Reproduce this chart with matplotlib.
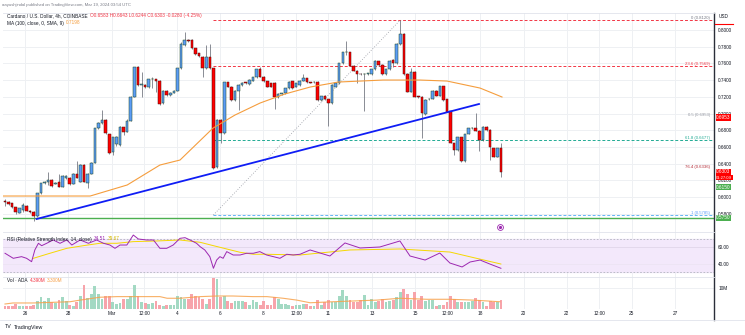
import matplotlib
matplotlib.use('Agg')
import matplotlib.pyplot as plt
import matplotlib.transforms as mtransforms

plt.rcParams['font.family'] = ['Liberation Sans', 'DejaVu Sans']

# ADA/USD 4h candles, Feb 25 -> Mar 19 2024
opens = [.5948, .5944, .5924, .5876, .5812, .5844, .5892, .5830, .5824, .5776,
         .6044, .6164, .6184, .6204, .6160, .6184, .6124, .6224, .6224, .6156,
         .6275, .6184, .6383, .6164, .6275, .6411, .6822, .6890, .6922, .6754,
         .6543, .6640, .6623, .6834, .6782, .6914, .7202, .7553, .7341, .7345,
         .7313, .7409, .7409, .7393, .7122, .7270, .7222, .7250, .7274, .7541,
         .7820, .7880, .7880, .7780, .7721, .7681, .7541, .7681, .7541, .6363,
         .6922, .6763, .7373, .7321, .7162, .7274, .7341, .7369, .7353, .7393,
         .7433, .7529, .7441, .7389, .7361, .7369, .7194, .7234, .7242, .7301,
         .7389, .7321, .7341, .7389, .7421, .7373, .7373, .7381, .7162, .7210,
         .7170, .7122, .7321, .7361, .7601, .7733, .7733, .7573, .7513, .7473,
         .7470, .7473, .7473, .7529, .7629, .7581, .7469, .7529, .7641, .7601,
         .7832, .7952, .7473, .7262, .7501, .7202, .7202, .6994, .7170, .7178,
         .7270, .7210, .7329, .7170, .7030, .6643, .6563, .6715, .6435, .6755,
         .6822, .6822, .6794, .6683, .6842, .6802, .6583, .6483, .6583]
highs = [.5975, .5950, .5930, .5885, .5870, .5924, .5900, .5840, .5830, .6050,
         .6170, .6190, .6303, .6215, .6185, .6275, .6260, .6265, .6235, .6285,
         .6435, .6390, .6400, .6285, .6420, .6830, .6900, .7042, .6935, .6760,
         .6720, .6725, .6845, .6840, .6930, .7210, .7560, .7565, .7501, .7350,
         .7415, .7441, .7415, .7400, .7280, .7280, .7260, .7285, .7550, .7860,
         .7975, .7890, .7890, .7790, .7730, .7690, .7820, .7832, .7550, .6930,
         .6930, .7380, .7380, .7330, .7280, .7350, .7375, .7380, .7410, .7440,
         .7535, .7561, .7450, .7395, .7365, .7375, .7240, .7250, .7310, .7390,
         .7395, .7370, .7400, .7473, .7430, .7380, .7390, .7390, .7215, .7218,
         .7175, .7350, .7370, .7610, .7740, .7872, .7740, .7580, .7520, .7480,
         .7480, .7490, .7535, .7640, .7635, .7590, .7535, .7640, .7650, .7840,
         .8120, .7960, .7480, .7541, .7510, .7210, .7210, .7170, .7185, .7280,
         .7280, .7335, .7335, .7175, .7035, .6650, .6720, .6720, .6760, .6830,
         .6835, .7002, .6800, .6850, .6850, .6810, .6590, .6590, .6643]
lows = [.5895, .5905, .5865, .5800, .5805, .5824, .5830, .5810, .5717, .5765,
        .6035, .6150, .6144, .6125, .6150, .6116, .6115, .6215, .6140, .6150,
        .6225, .6175, .6175, .6104, .6270, .6405, .6815, .6880, .6755, .6520,
        .6500, .6615, .6615, .6740, .6775, .6905, .7195, .7335, .7202, .7305,
        .7305, .7301, .7261, .7105, .7110, .7215, .7215, .7245, .7270, .7535,
        .7810, .7860, .7770, .7700, .7680, .7441, .7530, .7530, .6330, .6350,
        .6651, .6755, .7315, .7150, .7155, .7042, .7335, .7355, .7345, .7385,
        .7425, .7435, .7380, .7315, .7315, .7050, .7185, .7225, .7235, .7295,
        .7295, .7315, .7335, .7385, .7365, .7360, .7365, .7155, .7155, .7165,
        .6850, .7115, .7315, .7355, .7595, .7700, .7565, .7505, .7361, .7465,
        .7034, .7465, .7465, .7520, .7575, .7460, .7460, .7520, .7561, .7595,
        .7825, .7465, .7255, .7255, .7195, .7190, .6703, .6985, .7165, .7170,
        .7205, .7205, .7155, .7015, .6645, .6503, .6555, .6425, .6420, .6750,
        .6815, .6785, .6555, .6675, .6795, .6443, .6475, .6475, .6244]
closes = [.5942, .5916, .5876, .5824, .5864, .5904, .5836, .5824, .5776, .6044,
          .6164, .6184, .6204, .6132, .6172, .6124, .6251, .6255, .6156, .6275,
          .6232, .6383, .6184, .6275, .6411, .6822, .6890, .6922, .6762, .6531,
          .6715, .6715, .6834, .6782, .6914, .7202, .7553, .7341, .7345, .7313,
          .7409, .7412, .7393, .7114, .7270, .7222, .7250, .7274, .7541, .7832,
          .7880, .7872, .7780, .7713, .7689, .7541, .7681, .7541, .6343, .6922,
          .6763, .7373, .7321, .7162, .7274, .7341, .7369, .7365, .7401, .7433,
          .7529, .7441, .7389, .7321, .7321, .7194, .7234, .7242, .7301, .7381,
          .7301, .7361, .7393, .7429, .7373, .7370, .7381, .7162, .7210, .7170,
          .7122, .7341, .7361, .7601, .7733, .7741, .7573, .7513, .7473, .7470,
          .7473, .7481, .7529, .7629, .7581, .7469, .7529, .7633, .7601, .7832,
          .7952, .7473, .7262, .7501, .7202, .7198, .7002, .7162, .7178, .7274,
          .7210, .7329, .7162, .7022, .6651, .6563, .6715, .6435, .6755, .6822,
          .6826, .6794, .6683, .6842, .6802, .6595, .6483, .6583, .6303]
# volume in millions ADA
volumes = [1.46, 0.98, 1.46, 2.29, 1.46, 1.46, 1.46, 0.98, 1.95, 3.90,
           5.85, 3.56, 5.22, 3.07, 2.59, 4.24, 5.51, 3.90, 1.95, 1.46,
           3.07, 6.34, 11.71, 5.22, 7.17, 11.22, 7.17, 4.73, 6.34, 6.34,
           3.07, 2.29, 2.78, 4.73, 4.73, 6.34, 11.71, 6.34, 3.07, 2.93,
           2.29, 2.59, 3.90, 1.95, 0.98, 1.95, 1.95, 1.95, 6.34, 5.85,
           4.73, 4.73, 7.17, 6.34, 5.51, 4.73, 2.29, 4.73, 15.12, 14.63,
           5.37, 6.34, 3.90, 2.59, 3.56, 3.56, 3.90, 3.07, 1.95, 4.24,
           3.07, 1.95, 3.56, 1.95, 1.95, 5.85, 4.73, 2.29, 2.29, 1.95,
           1.46, 1.95, 1.95, 2.44, 2.44, 1.46, 1.46, 4.05, 1.95, 3.07,
           4.39, 3.07, 3.07, 6.34, 9.27, 6.34, 4.39, 3.07, 3.07, 4.05,
           6.83, 1.95, 4.73, 3.07, 3.56, 4.73, 3.07, 3.56, 4.39, 5.71,
           7.95, 9.61, 7.32, 4.05, 7.95, 4.05, 6.34, 3.56, 4.05, 4.05,
           1.46, 1.95, 1.95, 3.07, 6.00, 4.73, 3.07, 3.07, 3.07, 3.07,
           3.56, 5.22, 4.05, 3.07, 1.46, 3.56, 3.07, 3.07, 4.39]

# 100 SMA, read at points (candle index, price)
sma_idx = [-0.6, 23.7, 34.0, 43.1, 48.7, 57.9, 64.0, 71.0, 77.9, 84.9, 92.7, 105.2, 115.5, 123.0, 132.2, 138.3]
sma_val = [.6012, .6012, .6144, .6383, .6443, .6826, .6982, .7126, .7234, .7317, .7377, .7401, .7401, .7389, .7305, .7198]

# RSI (14) and its MA, read at points
rsi_idx = [0, 2.3, 4.6, 6.0, 7.4, 8.3, 9.3, 10.2, 11.6, 13.4, 15.3, 17.2, 18.6, 20.9, 23.2, 25.5,
           27.4, 29.2, 30.6, 32.0, 33.9, 35.7, 37.1, 39.4, 41.3, 43.1, 45.0, 46.8, 48.7, 50.1,
           51.5, 53.3, 54.3, 55.6, 57.0, 58.0, 58.9, 59.8, 60.7, 61.7, 63.5, 65.4, 67.2, 69.1,
           70.9, 72.8, 74.7, 76.5, 78.4, 80.2, 82.1, 84.9, 90.4, 94.6, 98.8, 104.3, 109.9,
           112.7, 116.9, 121.0, 123.8, 127.2, 129.4, 132.2, 134.9, 138.0]
rsi_val = [52.7, 46.6, 48.6, 46.6, 42.5, 56.7, 64.8, 61.9, 64.8, 68.8, 64.8, 68.8, 62.7, 68.8, 64.8, 68.8,
           64.8, 62.7, 58.7, 62.7, 62.7, 74.8, 70.0, 68.8, 68.8, 58.7, 58.7, 62.7, 70.8, 71.6,
           68.8, 64.8, 60.7, 56.7, 48.6, 34.5, 44.5, 48.6, 46.6, 54.7, 50.6, 50.6, 52.7, 52.7,
           54.7, 50.6, 48.6, 46.6, 51.5, 50.6, 51.5, 56.7, 49.4, 65.2, 59.1, 60.3, 67.6,
           49.4, 44.5, 53.0, 40.9, 36.1, 42.1, 44.5, 39.7, 34.51]
rsima_idx = [7.9, 12.5, 17.2, 21.8, 26.4, 31.1, 35.7, 42.2, 48.7, 54.3, 58.0, 61.7, 65.4, 69.1, 72.8,
             82.1, 96.0, 109.9, 123.8, 130.8, 138.0]
rsima_val = [46.6, 52.7, 58.7, 61.9, 64.8, 64.8, 66.8, 67.6, 68.8, 66.0, 61.9, 57.9, 53.9, 51.5, 51.5,
             50.6, 56.7, 57.9, 54.2, 47.0, 39.67]

# volume MA, read at points
vma_idx = [0, 2.2, 7.8, 18.1, 20.9, 26.4, 31.2, 37.6, 43.1, 45.1, 48.7, 54.3, 59.0, 63.4, 69.0,
           72.9, 77.4, 81.2, 84.9, 91.3, 103.5, 109.9, 117.4, 123.8, 130.2, 137.7]
vma_val = [2.2, 2.7, 2.7, 3.3, 4.1, 5.5, 5.8, 5.8, 5.8, 5.0, 5.0, 5.8, 6.1, 6.1, 5.8,
           5.8, 5.0, 4.1, 2.8, 3.3, 4.1, 5.0, 4.5, 4.5, 4.1, 3.3]

# drawings
fib_hi, fib_lo = 0.8120, 0.5785
fib_from, fib_to = 58, 110
trend_idx = [8.8, 131.9]
trend_val = [0.5737, 0.7114]
support = 0.5750
green_tag = 0.6150

price_ticks = [0.58, 0.60, 0.62, 0.64, 0.66, 0.68, 0.70, 0.72, 0.74, 0.76, 0.78, 0.80]
tick_days = [0, 2, 4, 5.5, 7, 9, 11, 12.5, 14, 16, 18, 19.5, 21, 23, 25, 26.5, 28, 30]
tick_labels = ['26', '28', 'Mar', '12:00', '4', '6', '8', '12:00', '11', '13', '15', '12:00',
               '18', '20', '22', '12:00', '25', '27']

W, H = 745, 335
def fx(x):
    return x / W
def fy(y):
    return 1 - y / H

TXT = '#131722'
GRID = '#eef0f3'
FS = 3.4

fig = plt.figure(figsize=(7.45, 3.35), dpi=100)
ax = fig.add_axes([fx(3), fy(232), fx(714) - fx(3), (232 - 13) / H])
rax = fig.add_axes([fx(3), fy(277), fx(714) - fx(3), (277 - 232) / H], sharex=ax)
vax = fig.add_axes([fx(3), fy(309), fx(714) - fx(3), (309 - 277) / H], sharex=ax)

tick_idx = [5.6 + 6.03 * d for d in tick_days]
n = len(opens)
xs = list(range(n))

for a in (ax, rax, vax):
    for s in a.spines.values():
        s.set_visible(False)
    for t in tick_idx:
        a.axvline(t, color=GRID, lw=0.7, zorder=0)
    a.tick_params(length=0)
    a.yaxis.tick_right()

ax.set_xlim(-0.56, 197.3)
ax.set_ylim(0.5581, 0.8204)
for p in price_ticks:
    ax.axhline(p, color=GRID, lw=0.7, zorder=0)
ax.set_yticks(price_ticks, ['%.4f' % p for p in price_ticks])
ax.tick_params(axis='y', labelsize=FS, labelcolor=TXT, pad=3)
ax.tick_params(axis='x', labelbottom=False)

# fib retracement
ytr = ax.get_yaxis_transform()
fib_levels = [(0, '#f23645', True, '#787b86'), (0.236, '#f23645', True, '#f23645'),
              (0.5, None, False, '#9598a1'), (0.618, '#22ab94', True, '#22ab94'),
              (0.764, None, False, '#b22833'), (1, '#64b5f6', True, '#5b9cf6')]
for lev, col, draw, tcol in fib_levels:
    price = fib_hi - lev * (fib_hi - fib_lo)
    if draw:
        ax.plot([fib_from, 197.3], [price, price], color=col, lw=0.7, dashes=(3, 2), zorder=2)
    if lev in (0, 1):
        lab = '%d (%.4f)' % (lev, price)
    elif lev == 0.5:
        lab = '0.5 (%.4f)' % price
    else:
        lab = '%g (%.4f)' % (lev * 100, price)
    ax.text(0.9944, price, lab, transform=ytr, ha='right', va='bottom', fontsize=FS - 0.3,
            color=tcol, zorder=6)
ax.plot([fib_from, fib_to], [fib_lo, fib_hi], color='#9598a1', lw=0.6, ls=(0, (1, 2)), zorder=2)
ax.axhline(support, color='#4caf50', lw=1.0, zorder=2)

# candles
up = [c >= o for o, c in zip(opens, closes)]
ax.vlines(xs, lows, highs, color='#6a6d78', lw=0.55, zorder=3)
ax.bar(xs, [max(abs(c - o), 0.0007) for o, c in zip(opens, closes)],
       bottom=[min(o, c) for o, c in zip(opens, closes)], width=0.72,
       color=['#5b9cf6' if u else '#ff0000' for u in up],
       edgecolor=['#1e4620' if u else '#4a0c0c' for u in up], linewidth=0.35, zorder=4)

ax.plot(sma_idx, sma_val, color='#f59d3d', lw=0.8, zorder=5)
ax.plot(trend_idx, trend_val, color='#0f1df5', lw=1.3, zorder=5)
ax.plot([137.7], [0.5641], marker='o', ms=4.2, mfc='white', mec='#9c27b0', mew=0.6, zorder=6)
ax.plot([137.7], [0.5641], marker='o', ms=1.3, color='#9c27b0', zorder=7)

# RSI pane
rax.set_ylim(23.94, 78.48)
rax.axhspan(30, 70, color='#f3e8fb', zorder=0)
rax.axhline(70, color='#b2b5be', lw=0.6, dashes=(2, 2), zorder=1)
rax.axhline(30, color='#b2b5be', lw=0.6, dashes=(2, 2), zorder=1)
rax.axhline(60, color='#e0d6ea', lw=0.6, zorder=1)
rax.axhline(40, color='#ebe3f2', lw=0.5, zorder=1)
rax.plot(rsima_idx, rsima_val, color='#f5d800', lw=0.7, zorder=3)
rax.plot(rsi_idx, rsi_val, color='#9c27b0', lw=0.7, zorder=4)
rax.set_yticks([60, 40], ['60.00', '40.00'])
rax.tick_params(axis='y', labelsize=FS, labelcolor=TXT, pad=3)
rax.tick_params(axis='x', labelbottom=False)

# volume pane
vax.set_ylim(-0.24, 15.37)
vax.axhline(10, color=GRID, lw=0.7, zorder=0)
vax.bar(xs, volumes, width=0.78, color=['#a3d9c3' if u else '#f7a4ab' for u in up], zorder=2)
vax.plot(vma_idx, vma_val, color='#f7a14a', lw=0.8, alpha=0.85, zorder=3)
vax.set_yticks([10], ['10M'])
vax.tick_params(axis='y', labelsize=FS, labelcolor=TXT, pad=3)
vax.set_xticks(tick_idx, tick_labels)
vax.tick_params(axis='x', labelsize=FS, labelcolor=TXT, pad=1.5)

# frame lines
fig.add_artist(plt.Line2D([fx(714), fx(714)], [fy(13), fy(320)], color='#2a2e39', lw=1.0))
for y in (13, 232, 277):
    fig.add_artist(plt.Line2D([fx(3), fx(714)], [fy(y), fy(y)], color='#e0e3eb', lw=0.6))
fig.add_artist(plt.Line2D([0, 1], [fy(320), fy(320)], color='#e0e3eb', lw=0.6))

# price scale badges
def badge(price, text, fc, dy=0, size=FS):
    tr = mtransforms.offset_copy(ax.get_yaxis_transform(), fig=fig, y=dy, units='points')
    ax.text(1.003, price, text, transform=tr, ha='left', va='center',
            fontsize=size, color='white', zorder=8,
            bbox=dict(boxstyle='square,pad=0.12', fc=fc, ec='none'))

mid = fib_hi - 0.5 * (fib_hi - fib_lo)
badge(mid, '%.4f' % mid, '#ff0000')
badge(closes[-1], '%.4f' % closes[-1], '#ff0000')
badge(closes[-1], '01:27:09', '#ff0000', dy=-4.4, size=FS - 0.4)
badge(green_tag, '%.4f' % green_tag, '#4caf50', dy=-2.0)
badge(support, '%.4f' % support, '#4caf50')
fig.text(fx(719), fy(17), 'USD', fontsize=FS, color=TXT, va='center')
fig.add_artist(plt.Line2D([fx(715), fx(733)], [fy(24), fy(24)], color='#ff0000', lw=0.8))

# legend texts
fig.canvas.draw()
rend = fig.canvas.get_renderer()

def rich(x, y, parts, size=FS):
    for s, c in parts:
        t = fig.text(fx(x), fy(y), s, color=c, fontsize=size, va='center', ha='left')
        x += t.get_window_extent(renderer=rend).width + 2

chg = closes[-1] - closes[-2]
rich(2, 5, [('aayushjindal published on TradingView.com, Mar 19, 2024 03:54 UTC', '#787b86')], FS - 0.3)
rich(7, 16, [('Cardano / U.S. Dollar, 4h, COINBASE', TXT),
             ('O%.4f H%.4f L%.4f C%.4f %.4f (%.2f%%)' % (opens[-1], highs[-1], lows[-1], closes[-1],
                                                          chg, chg / closes[-2] * 100), '#f23645')])
rich(7, 23, [('MA (100, close, 0, SMA, 9)', TXT), ('%.4f' % sma_val[-1], '#f59d3d')])
rich(7, 239, [('RSI (Relative Strength Index, 14, close)', TXT), ('%.2f' % rsi_val[-1], '#9c27b0'),
              ('%.2f' % rsima_val[-1], '#d4b800')])
rich(7, 280, [('Vol · ADA', TXT), ('%.3fM' % volumes[-1], '#f23645'), ('%.3fM' % vma_val[-1], '#f7a14a')])
rich(5, 327, [('TV', '#131722'), ('TradingView', '#131722')], FS + 0.4)

fig.savefig('out.png', dpi=100, facecolor='white')
